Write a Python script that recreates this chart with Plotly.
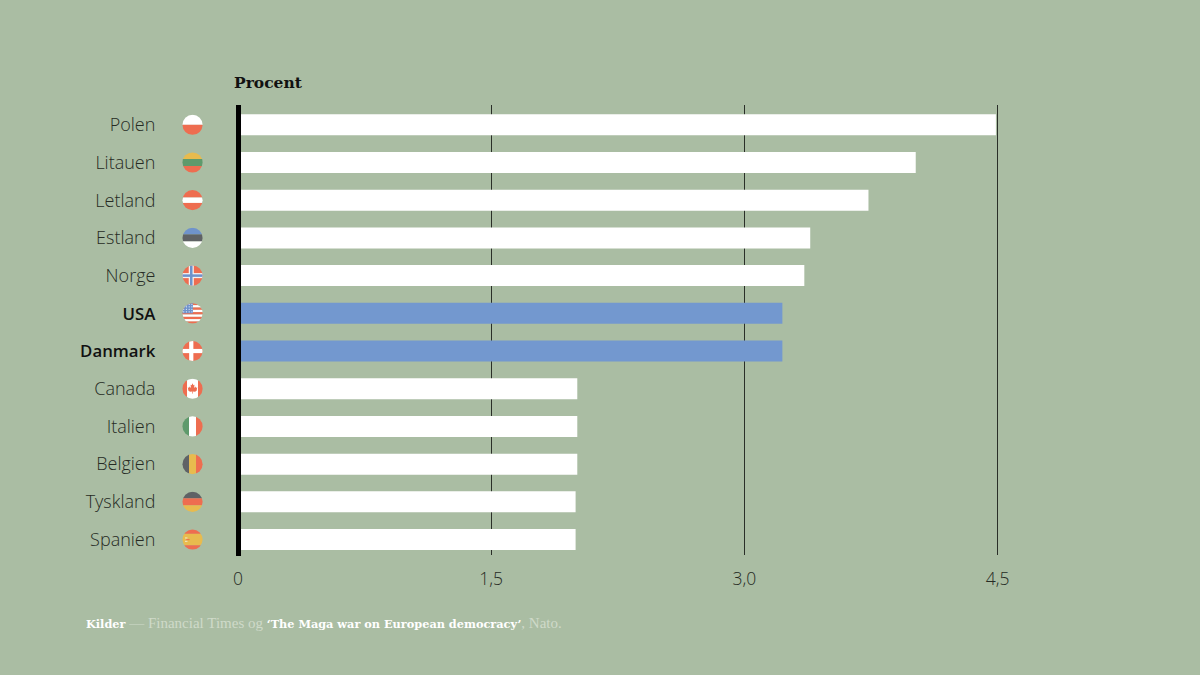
import base64
import plotly.graph_objects as go

countries = ["Polen", "Litauen", "Letland", "Estland", "Norge", "USA", "Danmark",
             "Canada", "Italien", "Belgien", "Tyskland", "Spanien"]
values = [4.49, 4.015, 3.735, 3.39, 3.355, 3.225, 3.225, 2.01, 2.01, 2.01, 2.00, 2.00]
highlighted = ["USA", "Danmark"]
x_ticks = [1.5, 3.0, 4.5]
x_tick_labels = ["1,5", "3,0", "4,5"]

BG = "#aabda3"
BLUE = "#7398cf"
INK = "#262b24"
RED = "#ee6d50"
YEL = "#e8bb4e"
GRN = "#5f9a6c"
FBL = "#6f93cb"
DRK = "#5f6265"
WHT = "#ffffff"


def rect(x, y, w, h, c):
    return f'<rect x="{x}" y="{y}" width="{w}" height="{h}" fill="{c}"/>'


def hstripes(cols, weights=None):
    weights = weights or [1] * len(cols)
    tot, y, out = sum(weights), 0, ""
    for c, w in zip(cols, weights):
        h = 100 * w / tot
        out += rect(0, y, 100, h + 0.3, c)
        y += h
    return out


def vstripes(cols, weights=None):
    weights = weights or [1] * len(cols)
    tot, x, out = sum(weights), 0, ""
    for c, w in zip(cols, weights):
        d = 100 * w / tot
        out += rect(x, 0, d + 0.3, 100, c)
        x += d
    return out


def usa():
    out = hstripes([RED if i % 2 == 0 else WHT for i in range(9)])
    out += rect(0, 0, 52, 50, FBL)
    for r in range(4):
        for c in range(4):
            out += f'<circle cx="{8 + c * 13}" cy="{7 + r * 12}" r="3" fill="#e6edf7"/>'
    return out


def canada():
    leaf = ("50,18 57,32 65,28 62,48 73,40 76,47 87,45 82,58 86,61 70,73 "
            "52,71 53,84 47,84 48,71 30,73 14,61 18,58 13,45 24,47 27,40 38,48 35,28 43,32")
    leaf = " ".join(f"{float(p.split(',')[0]) * .62 + 19:.1f},{float(p.split(',')[1]) * .75 + 10:.1f}"
                    for p in leaf.split())
    return (vstripes([RED, WHT, RED], [1, 2.2, 1]) + f'<polygon points="{leaf}" fill="{RED}"/>')


def spain():
    return (hstripes([RED, YEL, RED], [1, 2.4, 1])
            + rect(14, 40, 12, 5, "#f3e6c4") + rect(20, 48, 16, 5, RED) + rect(14, 56, 12, 5, "#f3e6c4"))


FLAGS = {
    "Polen": hstripes([WHT, RED]),
    "Litauen": hstripes([YEL, GRN, RED]),
    "Letland": hstripes([RED, WHT, RED], [2, 1.4, 2]),
    "Estland": hstripes([FBL, DRK, WHT]),
    "Norge": rect(0, 0, 100, 100, RED) + rect(32, 0, 24, 100, "#f3f3f3") + rect(0, 38, 100, 24, "#f3f3f3")
             + rect(38, 0, 12, 100, FBL) + rect(0, 44, 100, 12, FBL),
    "USA": usa(),
    "Danmark": rect(0, 0, 100, 100, RED) + rect(34, 0, 20, 100, WHT) + rect(0, 40, 100, 20, WHT),
    "Canada": canada(),
    "Italien": vstripes([GRN, WHT, RED]),
    "Belgien": vstripes([DRK, YEL, RED]),
    "Tyskland": hstripes([DRK, RED, YEL]),
    "Spanien": spain(),
}


def flag_uri(body):
    svg = ('<svg xmlns="http://www.w3.org/2000/svg" viewBox="0 0 100 100" width="100" height="100">'
           '<defs><clipPath id="c"><circle cx="50" cy="50" r="48"/></clipPath></defs>'
           f'<g clip-path="url(#c)">{body}</g></svg>')
    return "data:image/svg+xml;base64," + base64.b64encode(svg.encode()).decode()


positions = list(range(len(countries)))
labels = [f'<span style="font-weight:600;font-size:16.8px;fill:#111">{c}</span>' if c in highlighted else c
          for c in countries]

fig = go.Figure(go.Bar(
    x=values, y=positions, orientation="h", width=0.557,
    marker=dict(color=[BLUE if c in highlighted else WHT for c in countries], line_width=0),
    hoverinfo="skip",
))

images = [dict(source=flag_uri(FLAGS[c]), xref="paper", yref="y", x=-45.5 / 844.5, y=p,
               sizex=21 / 844.5, sizey=0.557, xanchor="center", yanchor="middle",
               sizing="contain", layer="above")
          for c, p in zip(countries, positions)]

SANS = "Open Sans"
SLAB = "DejaVu Serif"
fig.update_layout(
    width=1200, height=675, autosize=False,
    paper_bgcolor=BG, plot_bgcolor=BG, showlegend=False,
    margin=dict(l=238, r=117.5, t=105, b=120, pad=0),
    images=images,
    font=dict(family=SANS, color=INK),
    xaxis=dict(range=[0, 5], tickvals=[0] + x_ticks, ticktext=["0"] + x_tick_labels,
               showgrid=True, gridcolor="#2a2f28", gridwidth=1, zeroline=False, showline=False,
               ticks="outside", ticklen=8, tickcolor="rgba(0,0,0,0)",
               tickfont=dict(family=SANS, size=17.5, color=INK, weight=300)),
    yaxis=dict(range=[11.41, -0.525], tickvals=positions, ticktext=labels,
               showgrid=False, zeroline=False, showline=False,
               ticks="outside", ticklen=78, tickcolor="rgba(0,0,0,0)",
               tickfont=dict(family=SANS, size=18, color=INK, weight=300)),
    shapes=[dict(type="line", xref="paper", yref="paper", x0=0.0006, x1=0.0006, y0=-0.002, y1=1,
                 line=dict(color="#000000", width=5), layer="above")],
    annotations=[
        dict(text="<b>Procent</b>", xref="paper", yref="paper", x=0, y=1, xshift=-6, yshift=23,
             xanchor="left", yanchor="middle", showarrow=False,
             font=dict(family=SLAB, size=15.5, color="#111111")),
        dict(text=('<span style="font-family:\'DejaVu Serif\';font-weight:bold;color:#ffffff;font-size:11.3px">Kilder</span>'
                   ' — Financial Times og '
                   '<span style="font-family:\'DejaVu Serif\';font-weight:bold;color:#ffffff;font-size:11.3px">‘The Maga war on European democracy’</span>'
                   ', Nato.'),
             xref="paper", yref="paper", x=0, y=0, xshift=-154, yshift=-68,
             xanchor="left", yanchor="middle", showarrow=False, align="left",
             font=dict(family="Liberation Serif", size=15, color="#cfdac9")),
    ],
)

fig.write_html("out.html", config={"displayModeBar": False},
               post_script="document.body.style.margin='0';document.documentElement.style.background='%s';" % BG)
